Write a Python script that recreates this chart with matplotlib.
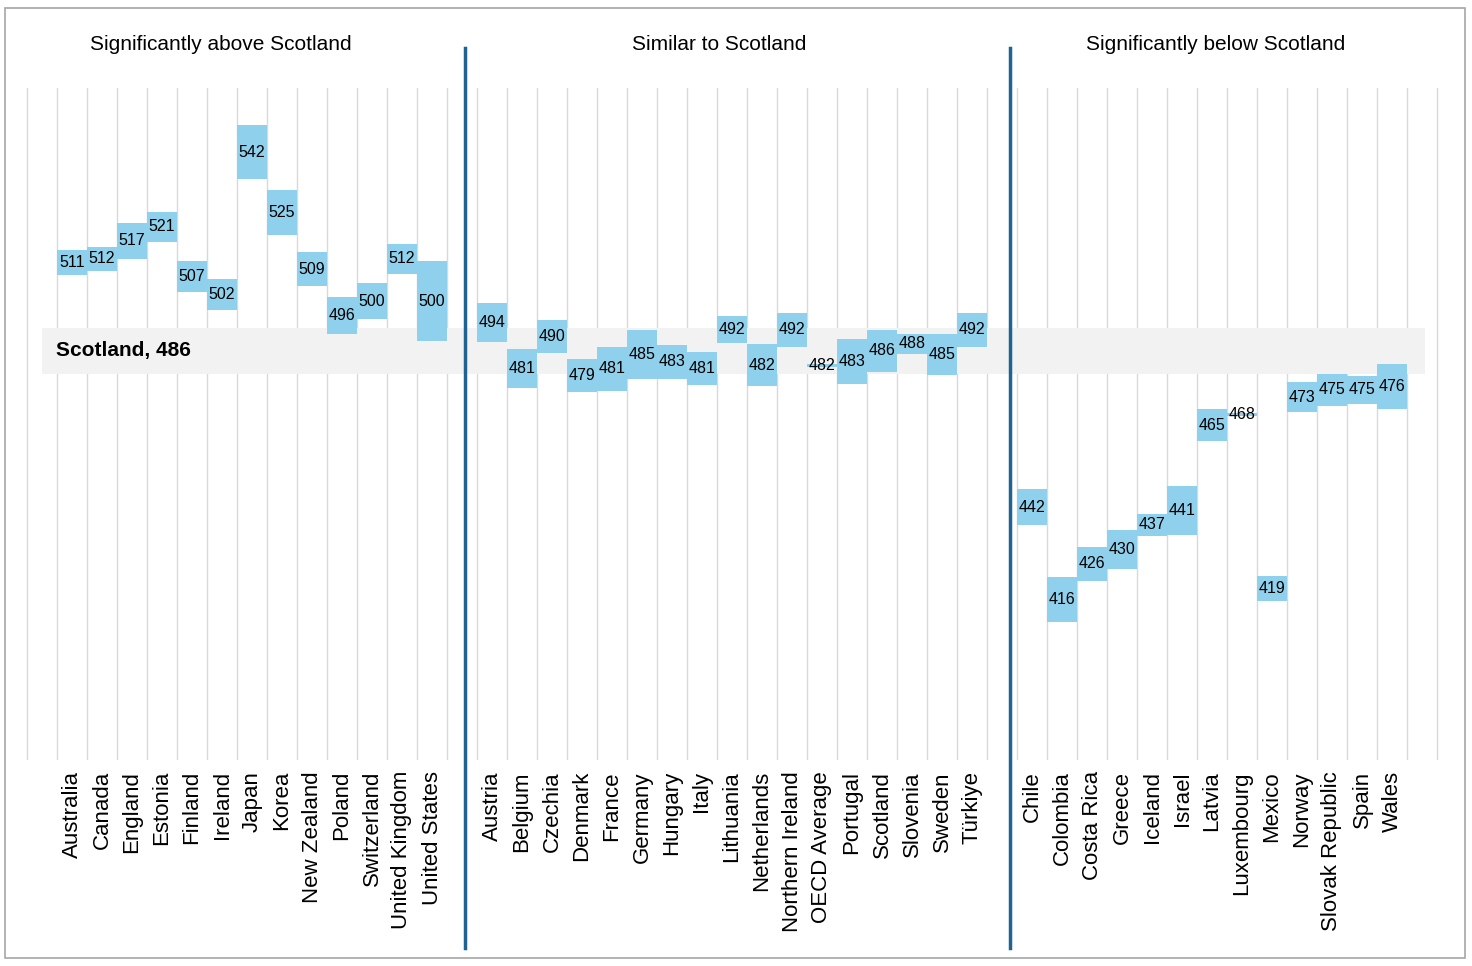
import matplotlib
matplotlib.use("Agg")
import matplotlib.pyplot as plt
from matplotlib.patches import Rectangle

plt.rcParams['font.family'] = ['Liberation Sans', 'DejaVu Sans']

above = ['Australia', 'Canada', 'England', 'Estonia', 'Finland', 'Ireland', 'Japan',
         'Korea', 'New Zealand', 'Poland', 'Switzerland', 'United Kingdom', 'United States']
above_scores = [511, 512, 517, 521, 507, 502, 542, 525, 509, 496, 500, 512, 500]
above_ci = [3.5, 3.4, 5.0, 4.2, 4.4, 4.4, 7.6, 6.3, 4.8, 5.2, 5.0, 4.2, 11.3]

similar = ['Austria', 'Belgium', 'Czechia', 'Denmark', 'France', 'Germany', 'Hungary',
           'Italy', 'Lithuania', 'Netherlands', 'Northern Ireland', 'OECD Average',
           'Portugal', 'Scotland', 'Slovenia', 'Sweden', 'Türkiye']
similar_scores = [494, 481, 490, 479, 481, 485, 483, 481, 492, 482, 492, 482,
                  483, 486, 488, 485, 492]
similar_ci = [5.4, 5.5, 4.6, 4.6, 6.2, 7.0, 4.8, 4.6, 3.7, 5.9, 4.8, 0.4,
              6.3, 6.0, 2.8, 5.9, 4.8]

below = ['Chile', 'Colombia', 'Costa Rica', 'Greece', 'Iceland', 'Israel', 'Latvia',
         'Luxembourg', 'Mexico', 'Norway', 'Slovak Republic', 'Spain', 'Wales']
below_scores = [442, 416, 426, 430, 437, 441, 465, 468, 419, 473, 475, 475, 476]
below_ci = [5.0, 6.3, 4.8, 5.4, 3.1, 6.9, 4.5, 0.4, 3.5, 4.2, 4.4, 3.9, 6.3]

headers = ['Significantly above Scotland', 'Similar to Scotland', 'Significantly below Scotland']
scotland = 486

groups = [(above, above_scores, above_ci, 0),
          (similar, similar_scores, similar_ci, 14),
          (below, below_scores, below_ci, 32)]

bar_color = '#8fd0ec'
line_color = '#1f6391'

fig = plt.figure(figsize=(14.72, 9.66), dpi=100)
fig.patches.append(Rectangle((5 / 1472, 8 / 966), 1460 / 1472, 950 / 966,
                             transform=fig.transFigure, fill=False,
                             edgecolor='#a6a6a6', linewidth=1.2))
ax = fig.add_axes([0, (966 - 760) / 966, 1, 672 / 966])
ax.set_xlim(-72 / 30, 1400 / 30)
ax.set_ylim(370.7, 560.1)
for s in ax.spines.values():
    s.set_visible(False)
ax.set_yticks([])

# grey vertical gridlines
grid_x = [x - 0.5 for x in range(-1, 14)] + [x - 0.5 for x in range(14, 32)] + \
         [x - 0.5 for x in range(32, 47)]
for gx in grid_x:
    ax.axvline(gx, color='#d9d9d9', linewidth=1, zorder=0)

# Scotland band
ax.add_patch(Rectangle((-1.0, scotland - 6.5), 46.1, 13, color='#f2f2f2', zorder=1,
                       linewidth=0))
ax.text(-0.55, scotland, 'Scotland, 486', fontsize=15, fontweight='bold',
        va='center', ha='left', zorder=5)

ticks, labels = [], []
for names, scores, cis, start in groups:
    for i, (n, s, c) in enumerate(zip(names, scores, cis)):
        x = start + i
        ax.add_patch(Rectangle((x - 0.5, s - c), 1.0, 2 * c, color=bar_color,
                               zorder=2, linewidth=0))
        ax.text(x, s, str(s), ha='center', va='center', fontsize=11.5, zorder=4)
        ticks.append(x)
        labels.append(n)

ax.set_xticks(ticks)
ax.set_xticklabels(labels, rotation=90, fontsize=16, va='top')
ax.tick_params(axis='x', length=0, pad=8)

# separators
for sx in [13.1, 31.27]:
    ax.plot([sx, sx], [317.7, 571.4], color=line_color, linewidth=2.5,
            clip_on=False, zorder=3)

for h, px in zip(headers, [221, 719, 1216]):
    fig.text(px / 1472, 1 - 45 / 966, h, ha='center', va='center', fontsize=15)

fig.savefig('out.png', dpi=100)
